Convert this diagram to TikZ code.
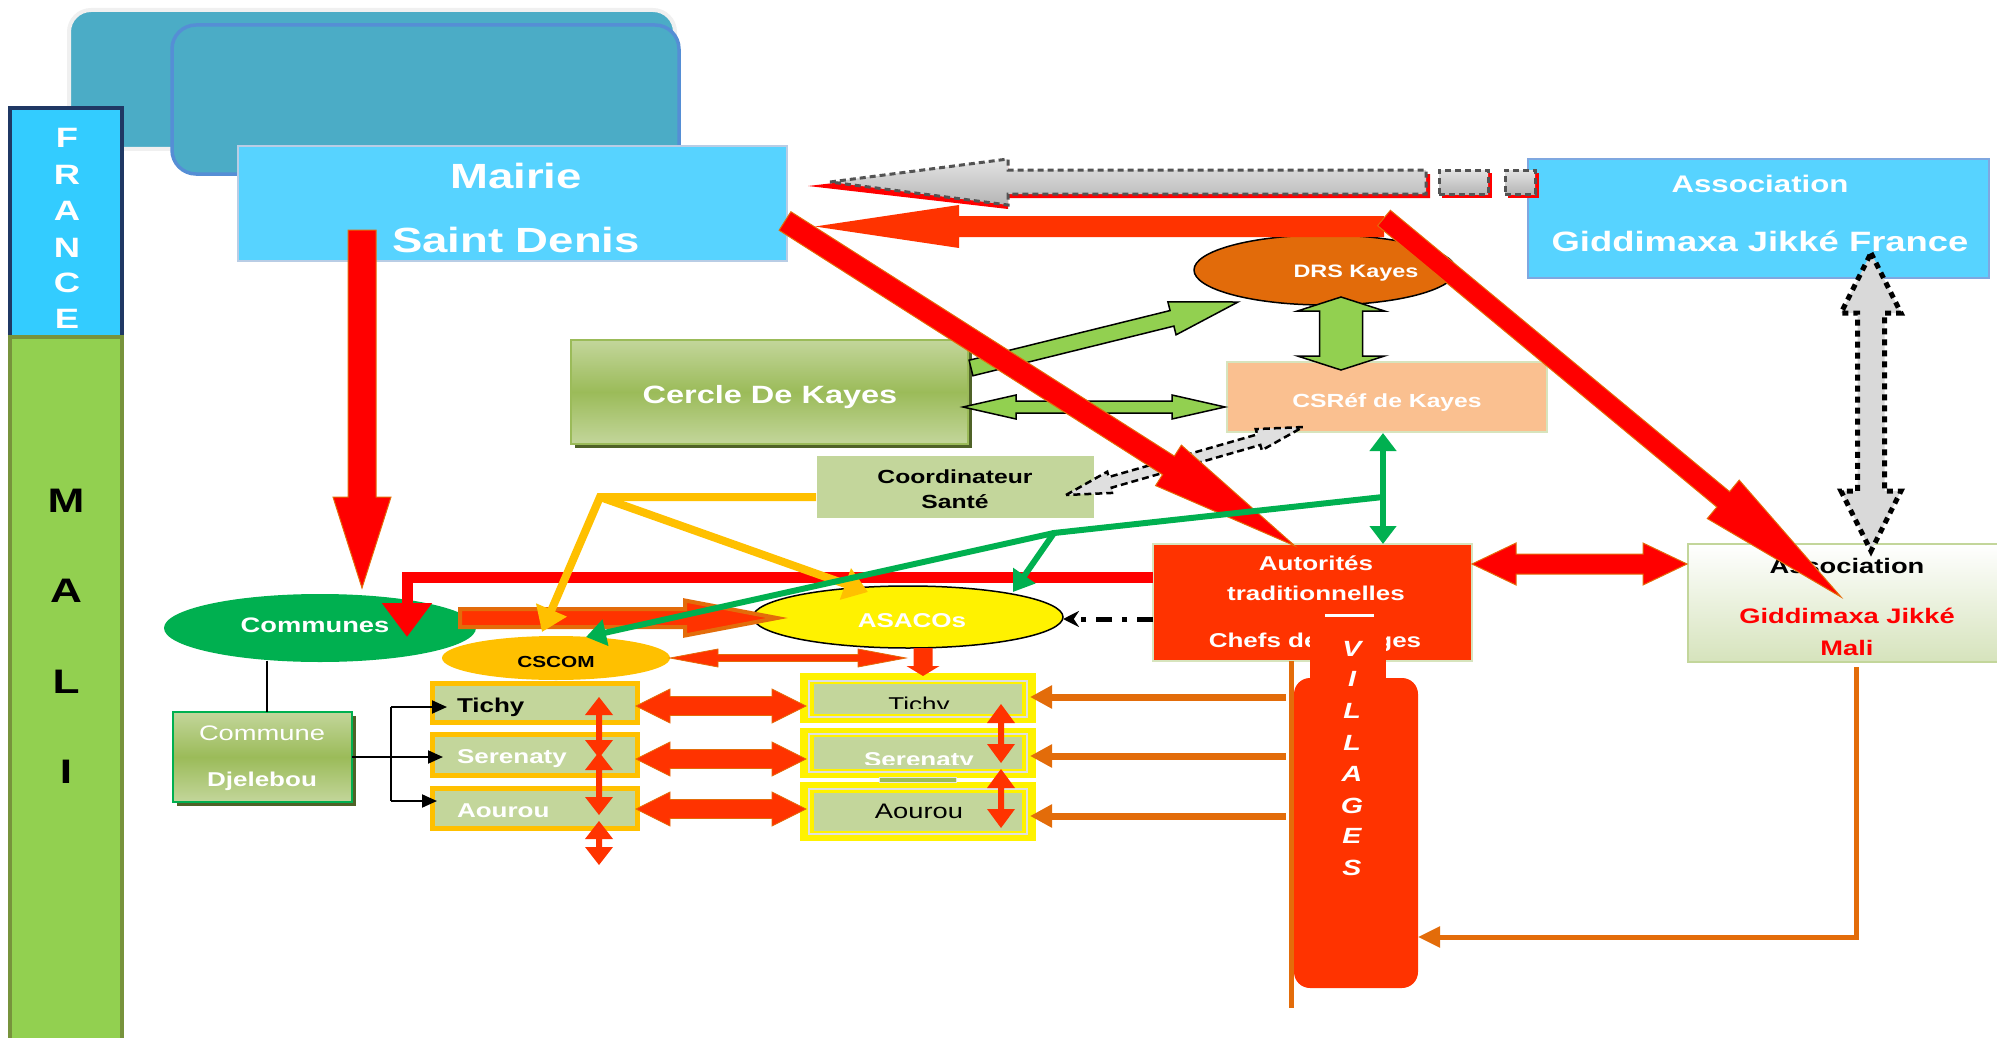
\documentclass[tikz,border=0pt]{standalone}
\usepackage{fontspec}
\setmainfont{Liberation Sans}[FakeStretch=1.3]
\usepackage{graphicx}
\usetikzlibrary{calc,arrows.meta,shapes.geometric}
\definecolor{tealA}{HTML}{4BACC6}
\definecolor{blueB}{HTML}{558ED5}
\definecolor{cyanBox}{HTML}{57D3FF}
\definecolor{mairieB}{HTML}{B9CDE5}
\definecolor{assocB}{HTML}{7FA7E0}
\definecolor{franceC}{HTML}{33CCFF}
\definecolor{navyB}{HTML}{1F3864}
\definecolor{maliC}{HTML}{92D050}
\definecolor{maliB}{HTML}{77933C}
\definecolor{drsC}{HTML}{E26B0A}
\definecolor{peachC}{HTML}{FAC090}
\definecolor{lgreenC}{HTML}{C3D69B}
\definecolor{mgreenC}{HTML}{9BBB59}
\definecolor{dgreenC}{HTML}{4F6228}
\definecolor{redorC}{HTML}{FF3300}
\definecolor{orlineC}{HTML}{E36C0A}
\definecolor{goldC}{HTML}{FFC000}
\definecolor{greenC}{HTML}{00B050}
\definecolor{palegC}{HTML}{D7E4BD}
\definecolor{gradgC}{HTML}{D6E3BC}
\definecolor{limeC}{HTML}{92D050}
% block arrow: style, from, to, shaft half width, head half width, head length
\newcommand{\BArrow}[6]{%
 \path[#1] let \p1=($(#3)-(#2)$), \n1={atan2(\y1,\x1)}, \n2={veclen(\x1,\y1)} in
 [shift={(#2)},rotate=\n1] (0,-#4) -- ({\n2-#6},-#4) -- ({\n2-#6},-#5) -- (\n2,0)
 -- ({\n2-#6},#5) -- ({\n2-#6},#4) -- (0,#4) -- cycle;}
\newcommand{\DArrow}[6]{%
 \path[#1] let \p1=($(#3)-(#2)$), \n1={atan2(\y1,\x1)}, \n2={veclen(\x1,\y1)} in
 [shift={(#2)},rotate=\n1] (0,0) -- (#6,-#5) -- (#6,-#4) -- ({\n2-#6},-#4) -- ({\n2-#6},-#5) -- (\n2,0)
 -- ({\n2-#6},#5) -- ({\n2-#6},#4) -- (#6,#4) -- (#6,#5) -- cycle;}
\begin{document}
\begin{tikzpicture}[x=1pt,y=-1pt,
  every node/.style={inner sep=0pt,outer sep=0pt},
  sz/.style 2 args={minimum width=#1pt,minimum height=#2pt},
  wb/.style={font=\fontsize{#1}{#1}\selectfont\bfseries,text=white,anchor=base},
  wr/.style={font=\fontsize{#1}{#1}\selectfont,text=white,anchor=base},
  kb/.style={font=\fontsize{#1}{#1}\selectfont\bfseries,text=black,anchor=base},
  kr/.style={font=\fontsize{#1}{#1}\selectfont,text=black,anchor=base},
  rb/.style={font=\fontsize{#1}{#1}\selectfont\bfseries,text=red,anchor=base},
  vl/.style={font=\fontsize{22}{22}\selectfont\bfseries\itshape,text=white,anchor=base},
  lbox/.style={fill=lgreenC,draw=goldC,line width=5},
  ybox/.style={fill=yellow},
  yframe/.style={draw=gray!25,line width=1.5},
  grayarr/.style={top color=gray!22,bottom color=gray!58,draw=gray!65!black,line width=3,dash pattern=on 6pt off 4pt},
  greenblk/.style={fill=limeC,draw=black,line width=1.5},
  yl/.style={draw=goldC,line width=8},
  grl/.style={draw=greenC,line width=6},
  orl/.style={draw=orlineC,line width=6}
]
\useasboundingbox (0,0) rectangle (1997,1038);

% background rounded panels
\draw[draw=gray!12,line width=4,fill=tealA,rounded corners=22pt] (69,10) rectangle (675,149);
\draw[draw=blueB,line width=3.5,fill=tealA,rounded corners=24pt] (172,25) rectangle (679,174);

% side bars
\node[sz={112}{229},fill=franceC,draw=navyB,line width=4] (france) at (66,222.5) {};
\node[sz={112}{705},fill=maliC,draw=maliB,line width=4] (mali) at (66,689.5) {};
\foreach \L/\yy [count=\i] in {F/148,R/184,A/220,N/257,C/292,E/328}
  \node[wb=28] (fr\i) at (67,\yy) {\L};
\foreach \L/\yy [count=\i] in {M/512,A/602,L/693,I/783}
  \node[kb=34] (ml\i) at (66,\yy) {\L};

% Mairie
\node[sz={549}{115},fill=cyanBox,draw=mairieB,line width=2] (mairie) at (512.5,203.5) {};
\node[wb=35] (mairieT1) at (516,188) {Mairie};
\node[wb=35] (mairieT2) at (516,252) {Saint Denis};

% Association France
\node[sz={461}{119},fill=cyanBox,draw=assocB,line width=2] (assocF) at (1758.5,218.5) {};
\node[wb=24] (afT1) at (1760,193) {Association};
\node[wb=28] (afT2) at (1760,251) {Giddimaxa Jikké France};

% gray dashed arrow (with red shadow)
\coordinate (gAs1) at (1430,186); \coordinate (gAs2) at (808,186);
\coordinate (gA1) at (1426,182);  \coordinate (gA2) at (830,182);
\path[fill=red] (gAs2) -- ($(gAs2)+(200,-23)$) -- ($(gAs2)+(200,-12)$) -- ($(gAs1)+(0,-12)$)
   -- ($(gAs1)+(0,12)$) -- ($(gAs2)+(200,12)$) -- ($(gAs2)+(200,23)$) -- cycle;
\fill[red] (1442,173) rectangle (1492,198);
\fill[red] (1508,173) rectangle (1539,198);
\path[grayarr] (gA2) -- ($(gA2)+(178,-23)$) -- ($(gA2)+(178,-12)$) -- ($(gA1)+(0,-12)$)
   -- ($(gA1)+(0,12)$) -- ($(gA2)+(178,12)$) -- ($(gA2)+(178,23)$) -- cycle;
\node[sz={49}{24},grayarr] (gpiece1) at (1463.5,182) {};
\node[sz={30}{24},grayarr] (gpiece2) at (1520,182) {};

% Cercle de Kayes
\fill[dgreenC] (575,344) rectangle (972,448);
\node[sz={397}{104},top color=lgreenC,bottom color=lgreenC,middle color=mgreenC,draw=mgreenC,line width=2] (cercle) at (769.5,392) {};
\node[wb=25] (cercleT) at (770,403) {Cercle De Kayes};

% Coordinateur
\node[sz={278}{63},fill=lgreenC,draw=white,line width=1] (coord) at (955,486.5) {};
\node[kb=19] (coordT1) at (955,483) {Coordinateur};
\node[kb=19] (coordT2) at (955,508) {Santé};

% CSRef
\node[sz={320}{70},fill=peachC,draw=palegC,line width=2] (csref) at (1387,397) {};
\node[wb=19] (csrefT) at (1387,407) {CSRéf de Kayes};

% DRS
\node[ellipse,sz={262}{70},fill=drsC,draw=black,line width=1.5] (drs) at (1325,270) {};
\node[wb=18] (drsT) at (1356,277) {DRS Kayes};

% Autorites
\node[sz={319}{117},fill=redorC,draw=palegC,line width=2] (autor) at (1312.5,602.5) {};
\node[wb=20] (autT1) at (1316,570) {Autorités};
\node[wb=20] (autT2) at (1316,600) {traditionnelles};
\draw[white,line width=3] (1325,615) -- (1374,615);
\node[wb=20] (autT3) at (1315,647) {Chefs de villages};

% VILLAGES
\node[sz={76}{72},fill=redorC] (villtop) at (1348,664) {};
\node[sz={124}{310},fill=redorC,rounded corners=16pt] (villages) at (1356,833) {};
\foreach \L/\yy [count=\i] in {V/656,I/686,L/718,L/750,A/781,G/813,E/843,S/875}
  \node[vl] (vg\i) at (1352,\yy) {\L};

% Association Mali
\node[sz={311}{118},top color=white,bottom color=gradgC,draw=lgreenC,line width=2] (assocM) at (1843.5,603) {};
\node[kb=21] (amT1) at (1847,573) {Association};
\node[rb=21] (amT2) at (1847,623) {Giddimaxa Jikké};
\node[rb=21] (amT3) at (1847,655) {Mali};

% ellipses
\node[ellipse,sz={312}{68},fill=greenC] (communes) at (320,628) {};
\node[wb=21] (communesT) at (315,632) {Communes};
\node[ellipse,sz={228}{44},fill=goldC] (cscom) at (556,658) {};
\node[kb=16] (cscomT) at (556,667) {CSCOM};
\node[ellipse,sz={310}{62},fill=yellow,draw=black,line width=1.5] (asacos) at (908,617) {};
\node[wb=20] (asacosT) at (912,627) {ASACOs};

% Commune Djelebou
\fill[dgreenC] (177,716) rectangle (356,806);
\node[sz={179}{90},top color=lgreenC,bottom color=lgreenC,middle color=mgreenC,draw=greenC,line width=2] (djel) at (262.5,757) {};
\node[wr=21] (djelT1) at (262,740) {Commune};
\node[wb=20] (djelT2) at (262,786) {Djelebou};

% left boxes
\node[sz={205}{39},lbox] (lT) at (535,703) {};
\node[sz={205}{41},lbox] (lS) at (535,755) {};
\node[sz={205}{40},lbox] (lA) at (535,808.5) {};
\node[kb=20,anchor=base west] (lTt) at (457,712) {Tichy};
\node[wb=20,anchor=base west] (lSt) at (457,763) {Serenaty};
\node[wb=20,anchor=base west] (lAt) at (457,817) {Aourou};

% right boxes
\node[sz={236}{50},ybox] (rT) at (918,698) {};
\node[sz={236}{50},ybox] (rS) at (918,753) {};
\node[sz={236}{59},ybox] (rA) at (918,811.5) {};
\node[sz={218}{36},yframe] (rTf) at (918,699) {};
\node[sz={208}{30},fill=lgreenC] (rTi) at (918,699) {};
\node[sz={218}{38},yframe] (rSf) at (918,753) {};
\node[sz={208}{32},fill=lgreenC] (rSi) at (918,753) {};
\node[sz={218}{45},yframe] (rAf) at (918,811.5) {};
\node[sz={208}{38},fill=lgreenC] (rAi) at (918,811.5) {};
\node[sz={77}{5},fill=mgreenC,draw=gray!20,line width=1] (artif) at (917.5,780) {};
\begin{scope}
  \clip (814,684) rectangle (1022,708);
  \node[kr=20] (rTt) at (919,711) {Tichy};
\end{scope}
\begin{scope}
  \clip (814,737) rectangle (1022,764);
  \node[wb=20] (rSt) at (919,766) {Serenaty};
\end{scope}
\node[kr=21] (rAt) at (919,818) {Aourou};

% green block arrows
\coordinate (j1a) at (971,368); \coordinate (j1b) at (1238,302);
\BArrow{greenblk}{j1a}{j1b}{8}{17}{68}
\coordinate (j2a) at (963,407); \coordinate (j2b) at (1225,407);
\DArrow{greenblk}{j2a}{j2b}{6}{12}{53}
\coordinate (j3a) at (1341,297); \coordinate (j3b) at (1341,370);
\DArrow{greenblk}{j3a}{j3b}{21.5}{43.5}{14}

% red arrow B
\coordinate (bB1) at (1384,226.5); \coordinate (bB2) at (815,226.5);
\BArrow{fill=redorC}{bB1}{bB2}{10.5}{21.5}{144}

% dashed gray double arrow Coordinateur <-> CSRef (under the red diagonal)
\coordinate (kK1) at (1066,495); \coordinate (kK2) at (1303,427);
\DArrow{fill=gray!25,draw=black,line width=2.5,dash pattern=on 7pt off 4pt}{kK1}{kK2}{5.5}{11}{46}

% red diagonals
\coordinate (cC1) at (785,221); \coordinate (cC2) at (1295,546);
\BArrow{fill=red,draw=orlineC,line width=1}{cC1}{cC2}{11}{24}{150}
\coordinate (dD1) at (1384,218); \coordinate (dD2) at (1841,597);
\BArrow{fill=red,draw=orlineC,line width=1}{dD1}{dD2}{10}{25}{153}

% vertical red arrow
\coordinate (eE1) at (362,230); \coordinate (eE2) at (362,588);
\BArrow{fill=red,draw=orlineC,line width=1}{eE1}{eE2}{14}{29}{91}

% red line autorites -> communes
\coordinate (fF1) at (1153,577); \coordinate (fF3) at (407,637);
\draw[red,line width=11,-{Triangle[width=48pt,length=34pt]}] (fF1) -| (fF3);

% orange block arrow communes -> asacos
\coordinate (gG1) at (460,618); \coordinate (gG2) at (777,618);
\BArrow{fill=redorC,draw=orlineC,line width=4}{gG1}{gG2}{9}{17.5}{92}

% yellow lines
\coordinate (hY0) at (600,497); \coordinate (hY1) at (816,497);
\coordinate (hY2) at (542,632); \coordinate (hY3) at (868,592);
\draw[yl,-{Triangle[width=32pt,length=24pt]}] (hY1) -- (hY0) -- (hY2);
\draw[yl,-{Triangle[width=32pt,length=24pt]}] (hY0) -- (hY3);

% green lines
\coordinate (iG1) at (1383,433); \coordinate (iG2) at (1383,544);
\coordinate (iG3) at (1383,497); \coordinate (iG4) at (1054,533);
\coordinate (iG5) at (1013,592); \coordinate (iG6) at (586,637);
\draw[grl,{Triangle[width=26pt,length=18pt]}-{Triangle[width=26pt,length=18pt]}] (iG1) -- (iG2);
\draw[grl,line join=miter,-{Triangle[width=26pt,length=20pt]}] (iG3) -- (iG4) -- (iG5);
\draw[grl,-{Triangle[width=26pt,length=20pt]}] (iG4) -- (iG6);

% black dash-dot arrow
\coordinate (lL1) at (1153,619); \coordinate (lL2) at (1063,619);
\draw[black,line width=5,dash pattern=on 16pt off 10pt on 5pt off 10pt,-{Stealth[length=16pt,width=16pt]}] (lL1) -- (lL2);

% red double arrow autorites <-> assoc mali
\coordinate (mM1) at (1472,564); \coordinate (mM2) at (1687,564);
\DArrow{fill=red,draw=orlineC,line width=1}{mM1}{mM2}{10}{21}{44}

% dotted double arrow assoc France <-> assoc Mali
\coordinate (nN1) at (1871,253); \coordinate (nN2) at (1871,551);
\DArrow{fill=gray!30,draw=black,line width=5,dash pattern=on 6pt off 5pt}{nN1}{nN2}{13.5}{30}{60}

% CSCOM <-> ASACOs
\coordinate (oO1) at (670,658); \coordinate (oO2) at (906,658);
\DArrow{fill=redorC,draw=orlineC,line width=0.8}{oO1}{oO2}{3.5}{9}{48}

% ASACOs down arrow
\coordinate (pP1) at (923,648); \coordinate (pP2) at (923,676);
\BArrow{fill=redorC}{pP1}{pP2}{9.5}{16.5}{10}

% left <-> right boxes
\foreach \yy [count=\i] in {706,759,809}{
  \coordinate (qa\i) at (636,\yy); \coordinate (qb\i) at (806,\yy);
  \DArrow{fill=redorC,draw=orlineC,line width=0.8}{qa\i}{qb\i}{9.5}{17}{34}
}

% small vertical double arrows
\foreach \ya/\yb [count=\i] in {697/758,752/815,821/865}{
  \coordinate (ra\i) at (599,\ya); \coordinate (rb\i) at (599,\yb);
  \DArrow{fill=redorC}{ra\i}{rb\i}{3}{14}{18}
}
\foreach \ya/\yb [count=\i] in {704/763,769/828}{
  \coordinate (sa\i) at (1001,\ya); \coordinate (sb\i) at (1001,\yb);
  \DArrow{fill=redorC}{sa\i}{sb\i}{3}{14}{19}
}

% black connectors
\coordinate (sS1) at (267,661); \coordinate (sS2) at (267,712);
\draw[black,line width=2] (sS1) -- (sS2);
\coordinate (bkT) at (391,707); \coordinate (bkB) at (391,801);
\coordinate (bkA1) at (447,707); \coordinate (bkA2) at (443,757); \coordinate (bkA3) at (437,801);
\draw[black,line width=2] (bkT) -- (bkB);
\draw[black,line width=2,-{Triangle[width=13pt,length=15pt]}] (bkT) -- (bkA1);
\draw[black,line width=2,-{Triangle[width=13pt,length=15pt]}] (djel.east) -- (bkA2);
\draw[black,line width=2,-{Triangle[width=13pt,length=15pt]}] (bkB) -- (bkA3);

% orange lines to right boxes
\draw[orl,line width=5] (1291,661) -- (1291,1008);
\foreach \yy [count=\i] in {697,756,816}{
  \coordinate (va\i) at (1286,\yy); \coordinate (vb\i) at (1030,\yy);
  \draw[orl,line width=7,-{Triangle[width=22pt,length=22pt]}] (va\i) -- (vb\i);
}
\coordinate (vL1) at (1856,667); \coordinate (vL3) at (1418,937);
\draw[orl,line width=5,-{Triangle[width=20pt,length=22pt]}] (vL1) |- (vL3);
\end{tikzpicture}
\end{document}
